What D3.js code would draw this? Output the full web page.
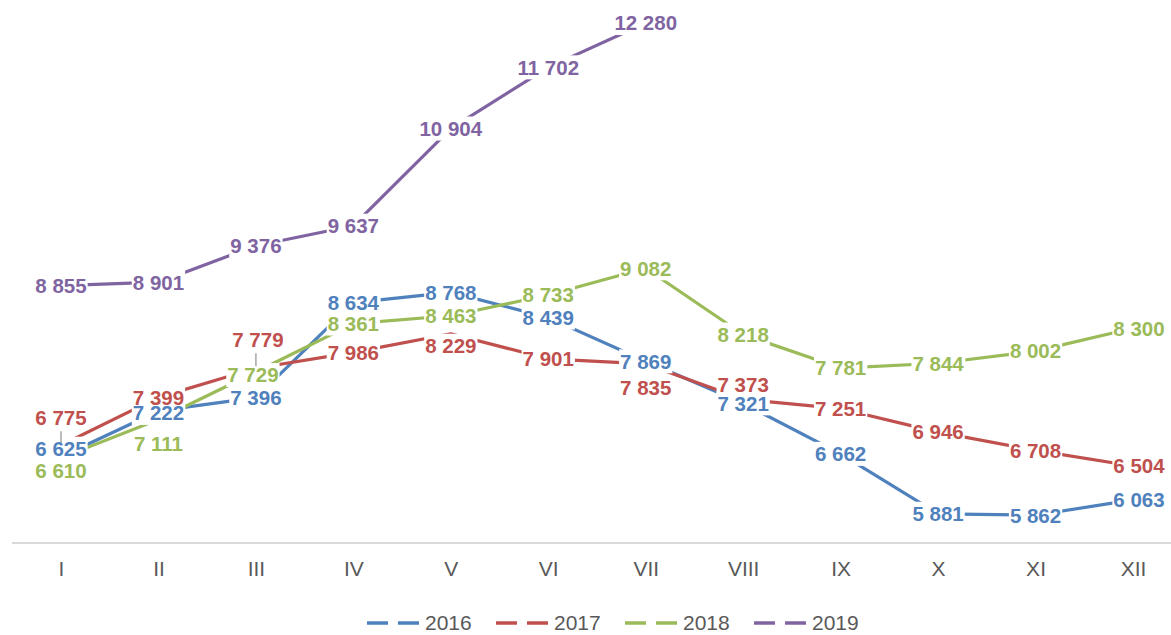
<!DOCTYPE html>
<meta charset="utf-8">
<style>
  body { margin: 0; background: #fff; }
  svg { display: block; font-family: "Liberation Sans", Arial, sans-serif; }
  .series { fill: none; stroke-width: 3.2px; stroke-linejoin: round; }
  .lbl { font-size: 20.5px; font-weight: bold; }
  .axis text { font-size: 21px; fill: #595959; font-family: "Liberation Sans", Arial, sans-serif; }
  .legend text { font-size: 21px; fill: #595959; }
</style>
<body>
<script src="https://d3js.org/d3.v7.min.js"></script>
<script>
  // months and yearly values
  var months = ["I", "II", "III", "IV", "V", "VI", "VII", "VIII", "IX", "X", "XI", "XII"];
  var years = ["2016", "2017", "2018", "2019"];
  var v2016 = [6625, 7222, 7396, 8634, 8768, 8439, 7869, 7321, 6662, 5881, 5862, 6063];
  var v2017 = [6775, 7399, 7779, 7986, 8229, 7901, 7835, 7373, 7251, 6946, 6708, 6504];
  var v2018 = [6610, 7111, 7729, 8361, 8463, 8733, 9082, 8218, 7781, 7844, 8002, 8300];
  var v2019 = [8855, 8901, 9376, 9637, 10904, 11702, 12280];
  var colors = ["#4f81bd", "#c0504d", "#9bbb59", "#8064a2"];

  var series = [v2016, v2017, v2018, v2019].map(function (vals, i) {
    return { year: years[i], color: colors[i],
             points: vals.map(function (v, j) { return { m: months[j], v: v }; }) };
  });

  // manual label nudges (dx, dy, leader line) like the original chart
  var nudge = {
    "2016": { "I": [0, -8], "II": [0, 2] },
    "2017": { "I": [0, -28, true], "III": [2, -29, true], "V": [0, 12], "VII": [0, 24], "VIII": [0, -15] },
    "2018": { "I": [0, 13], "II": [0, 24], "III": [-3, 3] },
    "2019": {}
  };

  var W = 1171, H = 635;
  var svg = d3.select("body").append("svg").attr("width", W).attr("height", H);

  var x = d3.scalePoint().domain(months).range([61, 1133]);
  var y = d3.scaleLinear().domain([5500, 12580]).range([543, 0]);

  // category axis
  var ax = svg.append("g")
      .attr("class", "axis")
      .attr("transform", "translate(0,543)")
      .call(d3.axisBottom(x).tickSize(0).tickPadding(18));
  ax.select(".domain").remove();
  svg.append("line")
      .attr("x1", 12).attr("x2", W).attr("y1", 543).attr("y2", 543)
      .attr("stroke", "#d9d9d9").attr("stroke-width", 2);

  var line = d3.line()
      .x(function (d) { return x(d.m); })
      .y(function (d) { return y(d.v); });

  svg.selectAll(".series")
     .data(series)
     .enter().append("path")
     .attr("class", "series")
     .attr("stroke", function (d) { return d.color; })
     .attr("d", function (d) { return line(d.points); });

  function off(s, d) {
    var n = nudge[s.year][d.m] || [0, 0];
    var dx = n[0];
    if (d.m === "XII") dx += 6;
    return [dx, n[1], !!n[2]];
  }

  // labels: white boxes knock out the lines, then leaders, then texts
  var boxLayer = svg.append("g");
  var leaderLayer = svg.append("g");
  var textLayer = svg.append("g");

  series.forEach(function (s) {
    s.points.forEach(function (d) {
      var o = off(s, d);
      var lx = x(d.m) + o[0], ly = y(d.v) + o[1];
      var t = textLayer.append("text")
         .attr("class", "lbl")
         .attr("x", lx).attr("y", ly)
         .attr("dy", "0.36em")
         .attr("text-anchor", "middle")
         .attr("fill", s.color)
         .text(d3.format(",")(d.v).replace(",", " "));
      var bb = t.node().getBBox();
      boxLayer.append("rect").attr("fill", "#fff")
          .attr("x", bb.x - 1).attr("width", bb.width + 2)
          .attr("y", ly - 12).attr("height", 24);
      if (o[2]) {
        leaderLayer.append("line")
           .attr("x1", x(d.m)).attr("x2", x(d.m))
           .attr("y1", ly + 14).attr("y2", y(d.v) - 2)
           .attr("stroke", "#a6a6a6").attr("stroke-width", 1.5);
      }
    });
  });

  // legend
  var leg = svg.append("g").attr("class", "legend");
  series.forEach(function (s, i) {
    var lx = 367 + i * 129;
    leg.append("line")
       .attr("x1", lx).attr("x2", lx + 52)
       .attr("y1", 623).attr("y2", 623)
       .attr("stroke", s.color).attr("stroke-width", 3.5)
       .attr("stroke-dasharray", "21 10");
    leg.append("text")
       .attr("x", lx + 58).attr("y", 623).attr("dy", "0.35em")
       .text(s.year);
  });
</script>
</body>
